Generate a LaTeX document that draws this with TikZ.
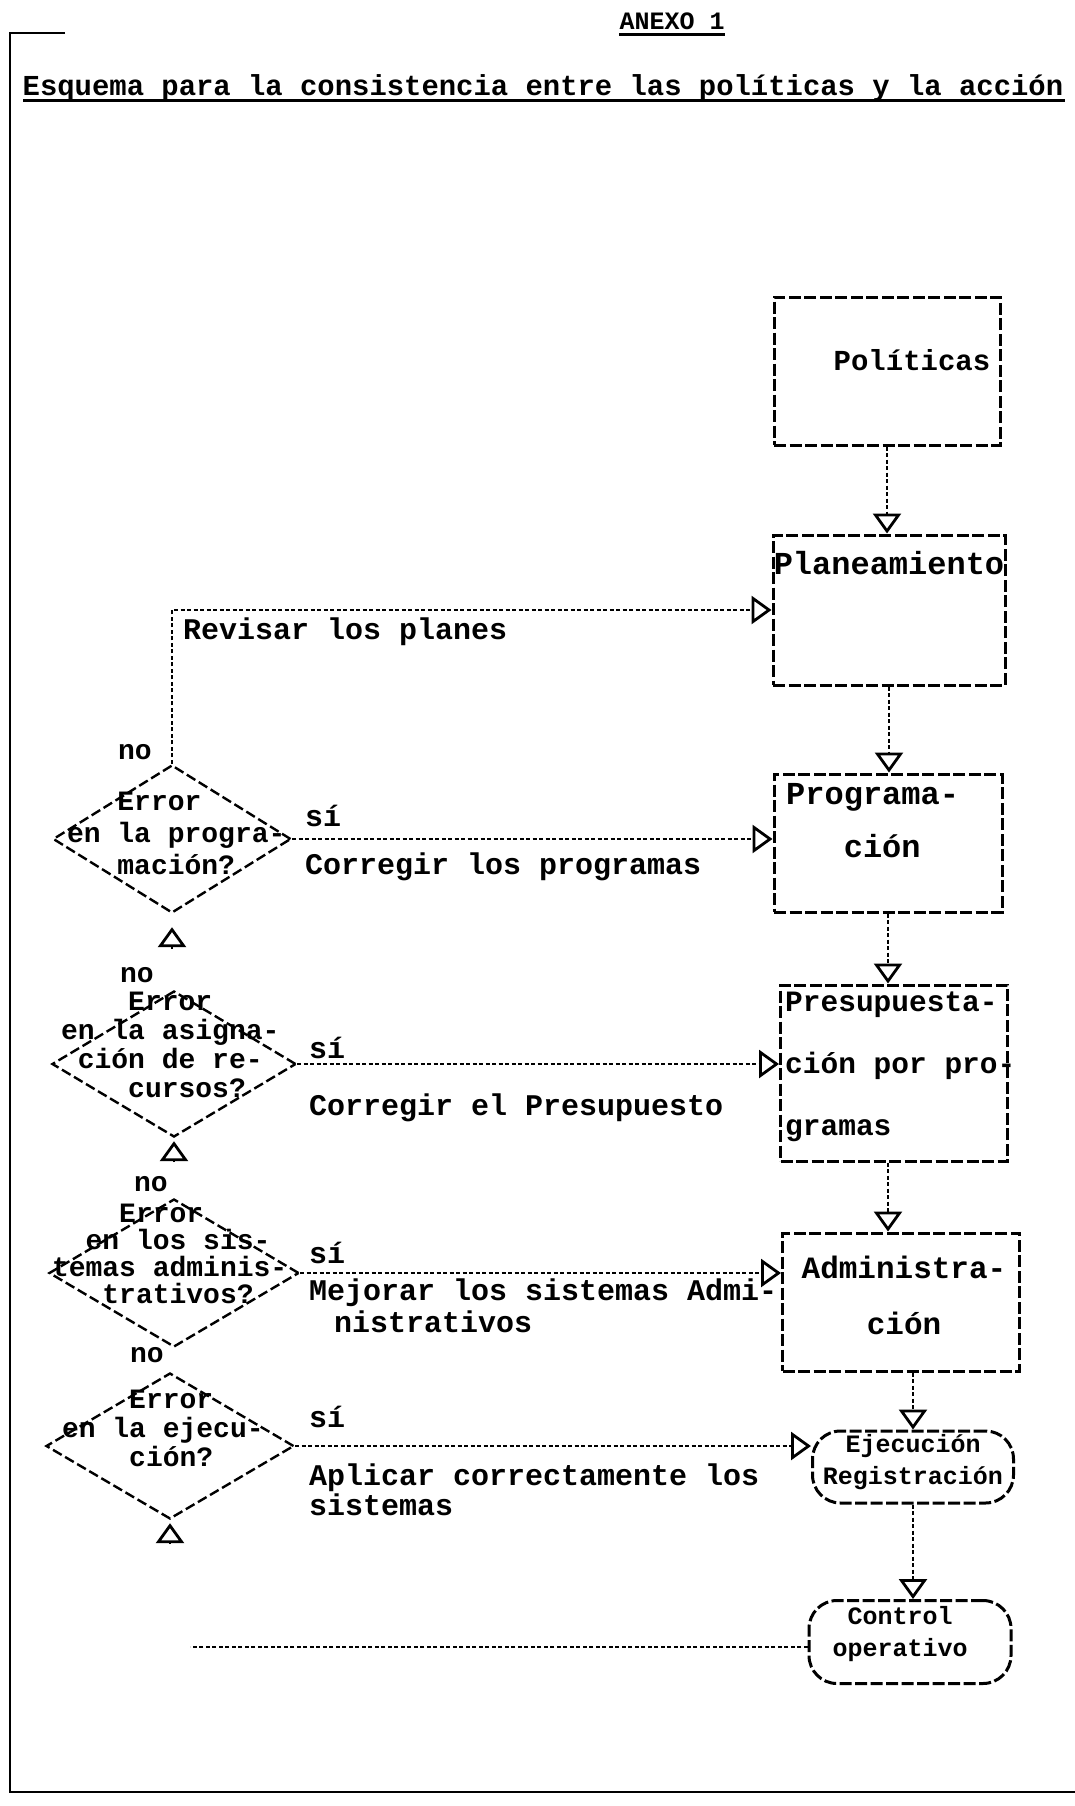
\documentclass[tikz,border=0pt]{standalone}
\usepackage{fontspec}
\setmainfont{Liberation Mono}
\usetikzlibrary{arrows.meta,shapes.geometric}
\begin{document}
\begin{tikzpicture}[x=1pt,y=-1pt,
  frame/.style={line width=2.6pt},
  boxst/.style={draw, line width=3pt, dash pattern=on 12pt off 3.5pt, inner sep=0pt},
  term/.style={boxst, rounded corners=28pt},
  dia/.style={draw, diamond, line width=2.4pt, dash pattern=on 10pt off 4pt, inner sep=0pt},
  btext/.style={inner sep=0pt, align=center, font=\bfseries\fontsize{31}{56}\selectfont},
  ttext/.style={inner sep=0pt, align=center, font=\bfseries\fontsize{25}{32}\selectfont},
  dtext/.style={inner sep=0pt, anchor=west, align=left, font=\bfseries\fontsize{28}{29}\selectfont},
  lab/.style={anchor=west, inner sep=0pt, align=left, font=\bfseries\fontsize{30}{30}\selectfont},
  nolab/.style={anchor=east, inner sep=0pt, font=\bfseries\fontsize{28}{28}\selectfont},
  conn/.style={line width=1.5pt, dash pattern=on 4pt off 2.5pt},
  tip/.style={-{Triangle[open, length=20pt, width=28pt, line width=2.8pt]}},
]
\useasboundingbox (0,0) rectangle (1075,1806);

% frame
\draw[frame] (65,33) -- (10,33) -- (10,1792) -- (1075,1792);

% headings
\node[inner sep=0pt, font=\bfseries\fontsize{25}{25}\selectfont] (anexo) at (672,21) {ANEXO 1};
\draw[line width=2.6pt] ([yshift=-5pt]anexo.south west) -- ([yshift=-5pt]anexo.south east);
\node[inner sep=0pt, font=\bfseries\fontsize{28.9}{30}\selectfont] (title) at (543,88) {Esquema para la consistencia entre las políticas y la acción};
\draw[line width=3pt] (23,101) -- (1065,101);

% right column boxes
\node[boxst, minimum width=226pt, minimum height=148pt] (pol) at (887,371) {};
\node[btext, font=\bfseries\fontsize{29}{30}\selectfont] (polt) at (912,360) {Políticas};
\node[boxst, minimum width=232pt, minimum height=150pt] (plan) at (889,610) {};
\node[btext, font=\bfseries\fontsize{32}{34}\selectfont] (plant) at (889,563) {Planeamiento};
\node[boxst, minimum width=228pt, minimum height=138pt] (prog) at (888,843) {};
\node[btext, align=left, anchor=west, font=\bfseries\fontsize{32}{53}\selectfont] (progt) at (786,821) {Programa-\\\phantom{xxx}ción};
\node[boxst, minimum width=227pt, minimum height=176pt] (pres) at (894,1073) {};
\node[btext, align=left, anchor=west, font=\bfseries\fontsize{29.5}{62}\selectfont] (prest) at (785,1067) {Presupuesta-\\ción por pro-\\gramas};
\node[boxst, minimum width=237pt, minimum height=138pt] (adm) at (901,1302) {};
\node[btext] (admt) at (904,1295) {Administra-\\ción};
\node[term, minimum width=201pt, minimum height=72pt] (eje) at (913,1467) {};
\node[ttext] (ejet) at (913,1462) {Ejecución\\Registración};
\node[term, minimum width=202pt, minimum height=83pt] (ctl) at (910,1642) {};
\node[ttext] (ctlt) at (900,1634) {Control\\operativo};

% right column connectors
\draw[conn, tip] (pol.south) -- (pol.south |- plan.north);
\draw[conn, tip] (plan.south) -- (plan.south |- prog.north);
\draw[conn, tip] (prog.south) -- (prog.south |- pres.north);
\draw[conn, tip] (prog.south |- pres.south) -- (prog.south |- adm.north);
\draw[conn, tip] (eje.north |- adm.south) -- (eje.north);
\draw[conn, tip] (eje.south) -- (eje.south |- ctl.north);

% decisions
\node[dia, minimum width=238pt, minimum height=148pt] (d1) at (172,839) {};
\node[dtext, font=\bfseries\fontsize{28}{32}\selectfont] (d1t) at ([xshift=15pt,yshift=6pt]d1.west) {\phantom{xxx}Error\\en la progra-\\\phantom{xxx}mación?};
\node[dia, minimum width=244pt, minimum height=146pt] (d2) at (174,1064) {};
\node[dtext] (d2t) at ([xshift=10pt,yshift=19pt]d2.west) {\phantom{xxxx}Error\\en la asigna-\\\phantom{x}ción de re-\\\phantom{xxxx}cursos?};
\node[dia, minimum width=250pt, minimum height=148pt] (d3) at (174,1273) {};
\node[dtext, font=\bfseries\fontsize{28}{27}\selectfont] (d3t) at ([xshift=4pt,yshift=19pt]d3.west) {\phantom{xxxx}Error\\\phantom{xx}en los sis-\\temas adminis-\\\phantom{xxx}trativos?};
\node[dia, minimum width=248pt, minimum height=146pt] (d4) at (170,1446) {};
\node[dtext] (d4t) at ([xshift=17pt,yshift=18pt]d4.west) {\phantom{xxxx}Error\\en la ejecu-\\\phantom{xxxx}ción?};

% labels
\node[lab] (rev) at (183,632) {Revisar los planes};
\node[nolab] (no1) at (152,752) {no};
\node[lab] (si1) at (305,816) {sí};
\node[lab] (cor1) at (305,867) {Corregir los programas};
\node[nolab] (no2) at (154,975) {no};
\node[lab] (si2) at (309,1048) {sí};
\node[lab] (cor2) at (309,1108) {Corregir el Presupuesto};
\node[nolab] (no3) at (168,1184) {no};
\node[lab] (si3) at (309,1253) {sí};
\node[lab] (mej1) at (309,1293) {Mejorar los sistemas Admi-};
\node[lab] (mej2) at (334,1322) {nistrativos};
\node[nolab] (no4) at (164,1355) {no};
\node[lab] (si4) at (309,1417) {sí};
\node[lab] (apl) at (309,1490) {Aplicar correctamente los\\sistemas};

% decision connectors
\draw[conn, tip] (d1.north) |- (plan.west);
\draw[conn, tip] (d1.east) -- (d1.east -| prog.west);
\draw[conn, tip] (d2.east) -- (d2.east -| pres.west);
\draw[conn, tip] (d3.east) -- (d3.east -| adm.west);
\draw[conn, tip] (d4.east) -- (d4.east -| eje.west);

% return arrowheads below decisions
\coordinate (a1) at ([yshift=-35pt]d1.south);
\coordinate (a2) at ([yshift=-24pt]d2.south);
\coordinate (a4) at ([yshift=-24pt]d4.south);
\draw[conn, tip, shorten >=13pt] (a1) -- (d1.south);
\draw[conn, tip, shorten >=3pt] (a2) -- (d2.south);
\draw[conn, tip, shorten >=3pt] (a4) -- (d4.south);

% control feedback line
\coordinate (cl) at (190,1647);
\draw[conn] (ctl.west |- cl) -- (cl);
\end{tikzpicture}
\end{document}
